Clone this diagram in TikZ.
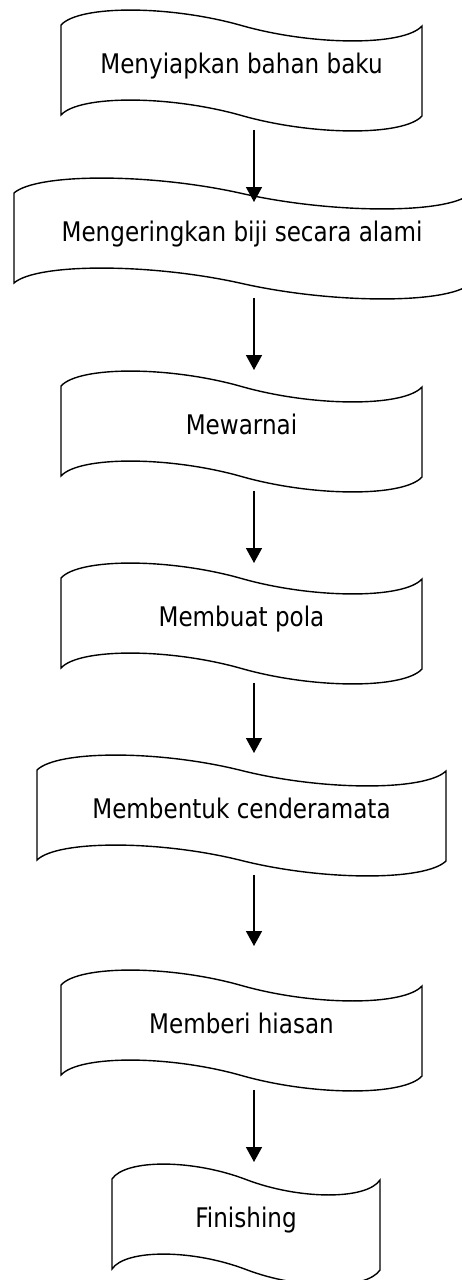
\documentclass[tikz,border=0pt]{standalone}
\usepackage{fontspec}
\setmainfont{DejaVu Sans}[FakeStretch=0.855]
\usetikzlibrary{arrows.meta}
\tikzset{
  tape/.style={draw=black, line width=1.4pt, fill=white},
  steplabel/.style={font=\fontsize{27}{31}\selectfont, anchor=base, inner sep=0pt},
  flow/.style={line width=1.5pt, -{Triangle[length=15pt,width=16pt]}},
}
% #1 name, #2 left x, #3 right x, #4 top-left y, #5 text
\newcommand{\tapebox}[5]{%
  \pgfmathsetmacro\tw{#3-#2}%
  \pgfmathsetmacro\xa{#2+0.05*\tw}%
  \pgfmathsetmacro\xb{#2+0.30*\tw}%
  \pgfmathsetmacro\xm{#2+0.50*\tw}%
  \pgfmathsetmacro\xc{#2+0.70*\tw}%
  \pgfmathsetmacro\xd{#2+0.95*\tw}%
  \draw[tape] (#2,#4) .. controls (\xa,#4-20) and (\xb,#4-20) .. (\xm,#4+0.5)
     .. controls (\xc,#4+21) and (\xd,#4+21) .. (#3,#4+1)
     -- (#3,#4+91)
     .. controls (\xd,#4+111) and (\xc,#4+111) .. (\xm,#4+90.5)
     .. controls (\xb,#4+70) and (\xa,#4+70) .. (#2,#4+90) -- cycle;
  \node[steplabel] (#1) at (\xm,#4+48.5) {#5};
  \coordinate (#1-out) at (254,#4+105);
}
\begin{document}
\begin{tikzpicture}[x=1pt,y=-1pt]
\useasboundingbox (0,0) rectangle (462,1280);
\tapebox{s1}{61}{422}{25}{Menyiapkan bahan baku}
\tapebox{s2}{14}{470}{193}{Mengeringkan biji secara alami}
\tapebox{s3}{61}{422}{386}{Mewarnai}
\tapebox{s4}{61}{422}{578}{Membuat pola}
\tapebox{s5}{37}{446}{770}{Membentuk cenderamata}
\tapebox{s6}{61}{422}{985}{Memberi hiasan}
\tapebox{s7}{112}{380}{1179}{Finishing}
\coordinate (s2-in) at (254,202);
\coordinate (s3-in) at (254,370);
\coordinate (s4-in) at (254,563);
\coordinate (s5-in) at (254,753);
\coordinate (s6-in) at (254,946);
\coordinate (s7-in) at (254,1162);
\draw[flow] (s1-out) -- (s2-in);
\draw[flow] (s2-out) -- (s3-in);
\draw[flow] (s3-out) -- (s4-in);
\draw[flow] (s4-out) -- (s5-in);
\draw[flow] (s5-out) -- (s6-in);
\draw[flow] (s6-out) -- (s7-in);
\end{tikzpicture}
\end{document}
